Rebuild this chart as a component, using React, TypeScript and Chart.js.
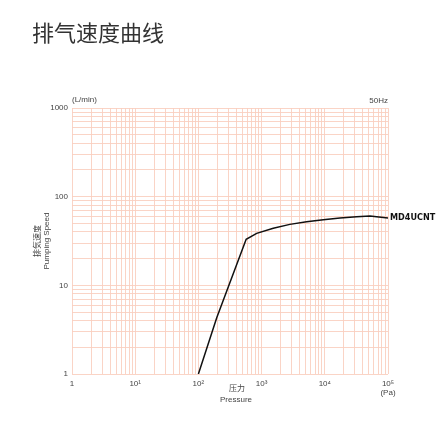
import { useEffect, useRef } from "react";
import { Chart, registerables } from "chart.js";

Chart.register(...registerables);

// pumping speed curve (Pa vs L/min)
const PRESSURE = [100, 195, 570, 835, 1530, 2800, 5150, 9470, 17400, 31900, 51900, 66000, 100000];
const SPEED = [1, 4.3, 33, 38.6, 44, 48.7, 52, 55, 57.4, 59.3, 60.4, 59.3, 57.4];
const SERIES_NAME = "MD4UCNT";

const X_DECADES = [1, 10, 100, 1000, 10000, 100000];
const X_TICK_LABELS: (string | string[])[] = ["1", "10¹", "10²", "10³", "10⁴", ["10⁵", "(Pa)"]];
const Y_DECADES = [1, 10, 100, 1000];
const Y_TICK_LABELS = ["1", "10", "100", "1000"];
const MINOR_STEPS = [1, 2, 3, 4, 5, 6, 7, 8, 9];

const TITLE = "排气速度曲线";
const Y_TITLE = ["排気速度", "Pumping Speed"];
const X_TITLE = ["压力", "Pressure"];
const UNIT_Y = "(L/min)";
const FREQ = "50Hz";

const GRID = "#f9cfbf";
const TEXT = "#444";
const SANS = "'Liberation Sans', Arial, 'Noto Sans CJK JP', sans-serif";

// log paper: 1..9 in every decade, plus the last decade line
const logGrid = (decades: number[]) =>
  decades.flatMap((d, i) => (i === decades.length - 1 ? [d] : MINOR_STEPS.map((k) => k * d)));

const labels = {
  id: "labels",
  afterDraw(chart: Chart) {
    const { ctx, chartArea, scales } = chart;
    const cx = (chartArea.left + chartArea.right) / 2;
    const cy = (chartArea.top + chartArea.bottom) / 2;
    ctx.save();
    ctx.fillStyle = TEXT;
    ctx.textBaseline = "middle";

    ctx.font = `8px ${SANS}`;
    ctx.textAlign = "left";
    ctx.fillText(UNIT_Y, chartArea.left, chartArea.top - 8);
    ctx.textAlign = "right";
    ctx.fillText(FREQ, chartArea.right, chartArea.top - 7);

    // x axis name sits between the 10² and 10³ labels
    ctx.textAlign = "center";
    ctx.font = `8px 'Noto Sans CJK JP', sans-serif`;
    ctx.fillText(X_TITLE[0], cx + 7, chartArea.bottom + 14);
    ctx.font = `8px ${SANS}`;
    ctx.fillText(X_TITLE[1], cx + 6, chartArea.bottom + 26);

    // y axis name, rotated
    ctx.translate(37, cy);
    ctx.rotate(-Math.PI / 2);
    ctx.font = `8px 'Noto Sans CJK JP', sans-serif`;
    ctx.fillText(Y_TITLE[0], 0, 0);
    ctx.font = `8px ${SANS}`;
    ctx.fillText(Y_TITLE[1], 0, 10);
    ctx.setTransform(1, 0, 0, 1, 0, 0);
    ctx.restore();

    // model name at the end of the curve
    const last = PRESSURE.length - 1;
    const lx = scales.x.getPixelForValue(PRESSURE[last]);
    const ly = scales.y.getPixelForValue(SPEED[last]);
    ctx.save();
    ctx.fillStyle = "#111";
    ctx.textBaseline = "middle";
    ctx.textAlign = "left";
    (ctx as any).fontStretch = "condensed";
    ctx.font = "bold 9px 'DejaVu Sans Condensed', 'DejaVu Sans', sans-serif";
    ctx.fillText(SERIES_NAME, lx + 2, ly);
    ctx.restore();
  },
};

function SpeedChart() {
  const canvasRef = useRef<HTMLCanvasElement>(null);

  useEffect(() => {
    if (!canvasRef.current) return;
    const chart = new Chart(canvasRef.current, {
      type: "line",
      data: {
        datasets: [
          {
            label: SERIES_NAME,
            data: PRESSURE.map((p, i) => ({ x: p, y: SPEED[i] })),
            borderColor: "#111",
            borderWidth: 1.5,
            pointRadius: 0,
            tension: 0,
          },
        ],
      },
      options: {
        responsive: true,
        maintainAspectRatio: false,
        animation: false,
        layout: { padding: { left: 0, right: 59, top: 108, bottom: 0 } },
        plugins: { legend: { display: false }, tooltip: { enabled: false } },
        scales: {
          x: {
            type: "logarithmic",
            min: 1,
            max: 100000,
            afterBuildTicks: (scale: any) => {
              scale.ticks = logGrid(X_DECADES).map((v) => ({ value: v }));
            },
            afterFit: (scale: any) => {
              scale.height = 58;
            },
            grid: { color: GRID, lineWidth: 0.9, drawTicks: false },
            border: { display: false },
            ticks: {
              autoSkip: false,
              maxRotation: 0,
              padding: 5,
              color: TEXT,
              font: { size: 8, family: SANS, lineHeight: 1.15 },
              callback: (v: any) => {
                const i = X_DECADES.indexOf(Number(v));
                return i >= 0 ? X_TICK_LABELS[i] : "";
              },
            },
          },
          y: {
            type: "logarithmic",
            min: 1,
            max: 1000,
            afterBuildTicks: (scale: any) => {
              scale.ticks = logGrid(Y_DECADES).map((v) => ({ value: v }));
            },
            afterFit: (scale: any) => {
              scale.width = 72;
            },
            grid: { color: GRID, lineWidth: 0.9, drawTicks: false },
            border: { display: false },
            ticks: {
              autoSkip: false,
              padding: 4,
              color: TEXT,
              font: { size: 8, family: SANS },
              callback: (v: any) => {
                const i = Y_DECADES.indexOf(Number(v));
                return i >= 0 ? Y_TICK_LABELS[i] : "";
              },
            },
          },
        },
      },
      plugins: [labels],
    });
    return () => chart.destroy();
  }, []);

  return (
    <div style={{ position: "fixed", left: 0, top: 0, width: 447, height: 432, background: "#fff" }}>
      <div
        style={{
          position: "absolute",
          left: 32,
          top: 17,
          fontSize: 22,
          lineHeight: "28px",
          color: "#333",
          fontFamily: "'Noto Sans CJK SC', sans-serif",
        }}
      >
        {TITLE}
      </div>
      <canvas ref={canvasRef} role="img" aria-label="Pumping speed versus pressure, log-log" />
    </div>
  );
}

export default function App() {
  return <SpeedChart />;
}
